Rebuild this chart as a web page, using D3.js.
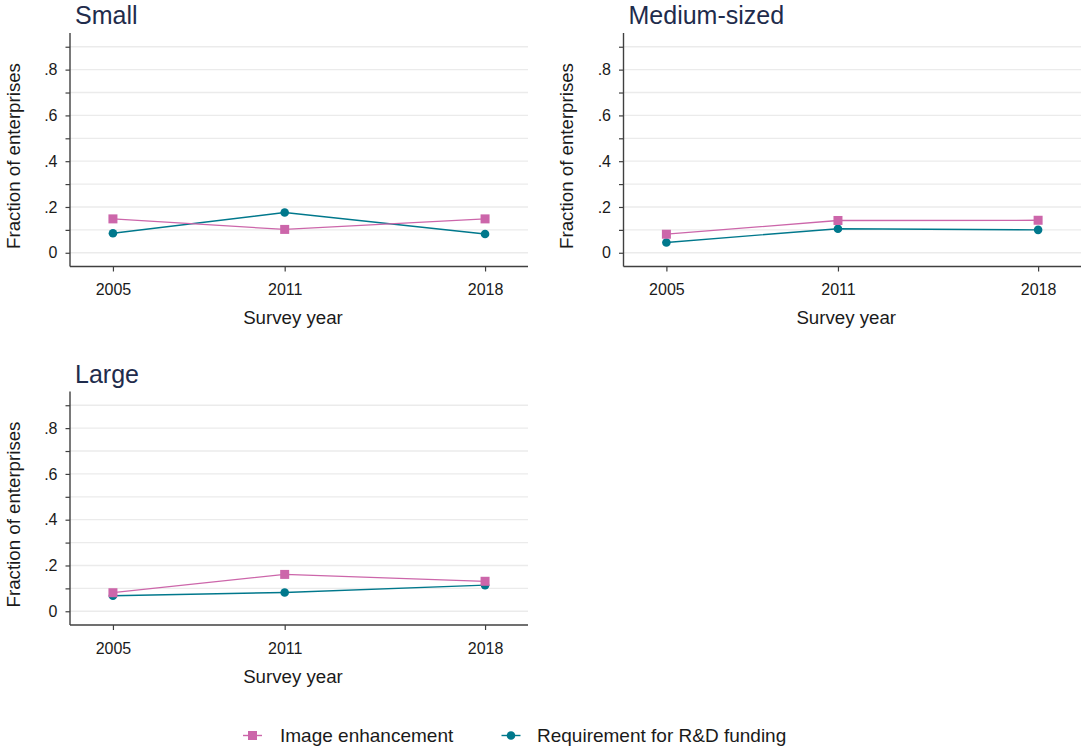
<!DOCTYPE html>
<html>
<head>
<meta charset="utf-8">
<script src="https://cdn.jsdelivr.net/npm/d3@7"></script>
<style>
  html, body { margin: 0; padding: 0; background: #fff; }
  svg { display: block; font-family: "Liberation Sans", Arial, sans-serif; }
</style>
</head>
<body>
<svg id="chart" width="1084" height="746"></svg>
<script>
// ---- Data ----
const panels = ["Small", "Medium-sized", "Large"];
const years = [2005, 2011, 2018];
const seriesNames = ["Image enhancement", "Requirement for R&D funding"];
const imageEnhancement = {
  "Small":        [0.148, 0.102, 0.148],
  "Medium-sized": [0.081, 0.141, 0.142],
  "Large":        [0.081, 0.161, 0.131]
};
const rdFunding = {
  "Small":        [0.085, 0.176, 0.082],
  "Medium-sized": [0.045, 0.105, 0.100],
  "Large":        [0.068, 0.082, 0.114]
};
const yGridValues = [0, 0.1, 0.2, 0.3, 0.4, 0.5, 0.6, 0.7, 0.8, 0.9];
const yLabelValues = [0, 0.2, 0.4, 0.6, 0.8];
const xTickValues = [2005, 2011, 2018];
const yTitle = "Fraction of enterprises";
const xTitle = "Survey year";

// ---- Style ----
const pink = "#cc66aa";
const teal = "#00788c";
const axisColor = "#404040";
const gridColor = "#ebebeb";
const titleColor = "#1f2c4c";
const textColor = "#1a1a1a";

const svg = d3.select("#chart");

const layouts = [
  { name: "Small",        left: 70,  right: 528,  top: 33,    bottom: 266.5 },
  { name: "Medium-sized", left: 623.5, right: 1081, top: 33,  bottom: 266.5 },
  { name: "Large",        left: 70,  right: 528,  top: 391.5, bottom: 625 }
];

layouts.forEach(L => {
  const g = svg.append("g");
  const x = d3.scaleLinear().domain([2003.5, 2019.5]).range([L.left, L.right]);
  const y = d3.scaleLinear().domain([-0.06, 0.96]).range([L.bottom, L.top]);

  // gridlines
  g.selectAll(".grid").data(yGridValues).enter().append("line")
    .attr("x1", L.left).attr("x2", L.right)
    .attr("y1", d => y(d)).attr("y2", d => y(d))
    .attr("stroke", gridColor).attr("stroke-width", 1.3);

  // y axis
  const yAxis = d3.axisLeft(y).tickValues(yGridValues).tickSize(4.5)
    .tickFormat(d => yLabelValues.some(v => Math.abs(v - d) < 1e-9)
      ? (d === 0 ? "0" : d3.format(".1f")(d).replace(/^0/, "")) : "");
  const ya = g.append("g").attr("transform", `translate(${L.left},0)`).call(yAxis);
  ya.select(".domain").attr("d", `M0,${L.top}V${L.bottom}`).attr("stroke", axisColor).attr("stroke-width", 1.4);
  ya.selectAll(".tick line").attr("stroke", axisColor).attr("stroke-width", 1.2);
  ya.selectAll(".tick text").attr("x", -12.5).attr("font-size", 16)
    .attr("font-family", "Liberation Sans, Arial, sans-serif").attr("fill", textColor);

  // x axis
  const xAxis = d3.axisBottom(x).tickValues(xTickValues).tickSize(5).tickFormat(d3.format("d"));
  const xa = g.append("g").attr("transform", `translate(0,${L.bottom})`).call(xAxis);
  xa.select(".domain").attr("d", `M${L.left},0H${L.right}`).attr("stroke", axisColor).attr("stroke-width", 1.4);
  xa.selectAll(".tick line").attr("stroke", axisColor).attr("stroke-width", 1.2);
  xa.selectAll(".tick text").attr("y", 0).attr("dy", 0).attr("transform", "translate(0,28.5)")
    .attr("font-size", 16).attr("font-family", "Liberation Sans, Arial, sans-serif").attr("fill", textColor);

  // panel title
  g.append("text").attr("x", L.left + 5).attr("y", L.top - 9)
    .attr("font-size", 25).attr("fill", titleColor).text(L.name);

  // y title
  const yc = L.top + 123;
  g.append("text").attr("transform", `translate(${L.left - 50.5},${yc}) rotate(-90)`)
    .attr("text-anchor", "middle").attr("font-size", 18.7).attr("fill", textColor).text(yTitle);

  // x title
  g.append("text").attr("x", (L.left + L.right) / 2 - 6).attr("y", L.bottom + 57.5)
    .attr("text-anchor", "middle").attr("font-size", 18.7).attr("fill", textColor).text(xTitle);

  // series
  const line = d3.line().x((d, i) => x(years[i])).y(d => y(d));
  const rd = rdFunding[L.name];
  const im = imageEnhancement[L.name];

  g.append("path").datum(rd).attr("d", line).attr("fill", "none")
    .attr("stroke", teal).attr("stroke-width", 1.4);
  g.selectAll(".rdpt").data(rd).enter().append("circle")
    .attr("cx", (d, i) => x(years[i])).attr("cy", d => y(d)).attr("r", 4.3).attr("fill", teal);

  g.append("path").datum(im).attr("d", line).attr("fill", "none")
    .attr("stroke", pink).attr("stroke-width", 1.3);
  g.selectAll(".impt").data(im).enter().append("rect")
    .attr("x", (d, i) => x(years[i]) - 4.5).attr("y", d => y(d) - 4.5)
    .attr("width", 9).attr("height", 9).attr("fill", pink);
});

// ---- Legend ----
const legend = svg.append("g");
const legendItems = [
  { name: seriesNames[0], color: pink, shape: "square", cx: 252.5, tx: 280 },
  { name: seriesNames[1], color: teal, shape: "circle", cx: 511, tx: 537 }
];
legendItems.forEach(it => {
  const cy = 735.5;
  legend.append("line").attr("x1", it.cx - 9.5).attr("x2", it.cx + 9.5)
    .attr("y1", cy).attr("y2", cy).attr("stroke", it.color).attr("stroke-width", 1.4);
  if (it.shape === "square") {
    legend.append("rect").attr("x", it.cx - 4.5).attr("y", cy - 4.5)
      .attr("width", 9).attr("height", 9).attr("fill", it.color);
  } else {
    legend.append("circle").attr("cx", it.cx).attr("cy", cy).attr("r", 4.3).attr("fill", it.color);
  }
  legend.append("text").attr("x", it.tx).attr("y", 742)
    .attr("font-size", 19).attr("fill", textColor).text(it.name);
});
</script>
</body>
</html>
